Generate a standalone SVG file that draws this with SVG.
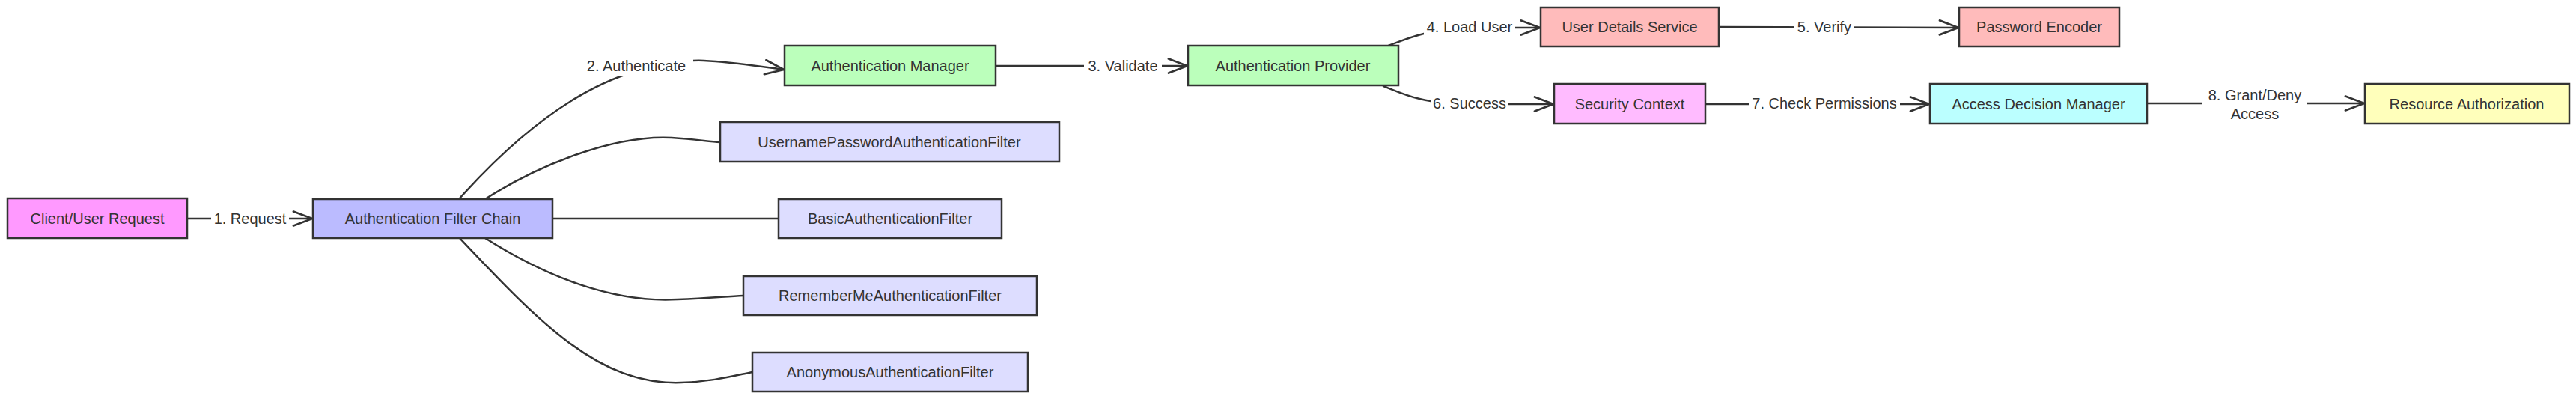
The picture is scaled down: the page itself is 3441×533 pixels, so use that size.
<svg xmlns="http://www.w3.org/2000/svg" width="3441" height="533" viewBox="0 0 3441 533">
<defs>
<style>
.node rect{stroke:#333;stroke-width:2.5}
.node text,.lbl text{font-family:"Liberation Sans",Arial,sans-serif;font-size:20px;fill:#333;text-anchor:middle;dominant-baseline:central}
.edge{fill:none;stroke:#333;stroke-width:2.5;stroke-linecap:round}
.arrow{marker-end:url(#arr)}
.lbl rect{fill:#fff;stroke:none}
</style>
<marker id="arr" viewBox="0 0 28 22" refX="27" refY="11" markerWidth="28" markerHeight="22" markerUnits="userSpaceOnUse" orient="auto">
<path d="M2,1.5 L27,11 L2,20.5" fill="none" stroke="#333" stroke-width="2.8" stroke-linecap="round" stroke-linejoin="round"/>
</marker>
</defs>
<rect width="3441" height="533" fill="#fff"/>
<g id="connectors">
<path class="edge arrow" d="M250,292 L417,292"/>
<path class="edge arrow" d="M613,266 C690,180 770,118 850,95 C890,84 920,80 940,81 C980,83 1010,88 1047,93"/>
<path class="edge arrow" d="M1330,88 L1586,88"/>
<path class="edge" d="M648,266 C720,220 820,180 897,184 C930,186 945,189 962,190"/>
<path class="edge" d="M738,292 L1040,292"/>
<path class="edge" d="M648,318 C730,370 820,405 905,400 C950,398 970,396 993,395"/>
<path class="edge" d="M614,318 C720,430 800,515 910,511 C950,510 980,502 1005,497"/>
<path class="edge arrow" d="M1849,63 C1880,52 1900,40 1963,37 L2057,37"/>
<path class="edge arrow" d="M2296,36 L2616,37"/>
<path class="edge arrow" d="M1848,115 C1880,128 1900,138 1963,139 L2075,139"/>
<path class="edge arrow" d="M2278,139 L2577,139"/>
<path class="edge arrow" d="M2868,138 L3158,138"/>
</g>
<g id="edge-labels">
<g class="lbl"><rect x="282" y="279" width="104" height="26"/><text x="334" y="292">1. Request</text></g>
<g class="lbl"><rect x="774" y="75" width="152" height="26"/><text x="850" y="88">2. Authenticate</text></g>
<g class="lbl"><rect x="1448" y="75" width="104" height="26"/><text x="1500" y="88">3. Validate</text></g>
<g class="lbl"><rect x="1902" y="23" width="122" height="26"/><text x="1963" y="36">4. Load User</text></g>
<g class="lbl"><rect x="2397" y="23" width="80" height="26"/><text x="2437" y="36">5. Verify</text></g>
<g class="lbl"><rect x="1911" y="125" width="104" height="26"/><text x="1963" y="138">6. Success</text></g>
<g class="lbl"><rect x="2336" y="125" width="202" height="26"/><text x="2437" y="138">7. Check Permissions</text></g>
<g class="lbl"><rect x="2942" y="114" width="140" height="52"/><text x="3012" y="127">8. Grant/Deny</text><text x="3012" y="152">Access</text></g>
</g>
<g id="node-client" class="node"><rect x="10" y="265" width="240" height="53" fill="#ff99ff"/><text x="130" y="292">Client/User Request</text></g>
<g id="node-chain" class="node"><rect x="418" y="266" width="320" height="52" fill="#bbbbff"/><text x="578" y="292">Authentication Filter Chain</text></g>
<g id="node-upaf" class="node"><rect x="962" y="163" width="453" height="53" fill="#ddddff"/><text x="1188" y="190">UsernamePasswordAuthenticationFilter</text></g>
<g id="node-basic" class="node"><rect x="1040" y="266" width="298" height="52" fill="#ddddff"/><text x="1189" y="292">BasicAuthenticationFilter</text></g>
<g id="node-remember" class="node"><rect x="993" y="369" width="392" height="52" fill="#ddddff"/><text x="1189" y="395">RememberMeAuthenticationFilter</text></g>
<g id="node-anon" class="node"><rect x="1005" y="471" width="368" height="52" fill="#ddddff"/><text x="1189" y="497">AnonymousAuthenticationFilter</text></g>
<g id="node-am" class="node"><rect x="1048" y="61" width="282" height="53" fill="#bbffbb"/><text x="1189" y="88">Authentication Manager</text></g>
<g id="node-ap" class="node"><rect x="1587" y="61" width="281" height="53" fill="#bbffbb"/><text x="1727" y="88">Authentication Provider</text></g>
<g id="node-uds" class="node"><rect x="2058" y="10" width="238" height="52" fill="#ffbbbb"/><text x="2177" y="36">User Details Service</text></g>
<g id="node-pe" class="node"><rect x="2617" y="10" width="214" height="52" fill="#ffbbbb"/><text x="2724" y="36">Password Encoder</text></g>
<g id="node-sc" class="node"><rect x="2076" y="112" width="202" height="53" fill="#ffbbff"/><text x="2177" y="139">Security Context</text></g>
<g id="node-adm" class="node"><rect x="2578" y="112" width="290" height="53" fill="#bbffff"/><text x="2723" y="139">Access Decision Manager</text></g>
<g id="node-ra" class="node"><rect x="3159" y="112" width="273" height="53" fill="#ffffbb"/><text x="3295" y="139">Resource Authorization</text></g>
</svg>
